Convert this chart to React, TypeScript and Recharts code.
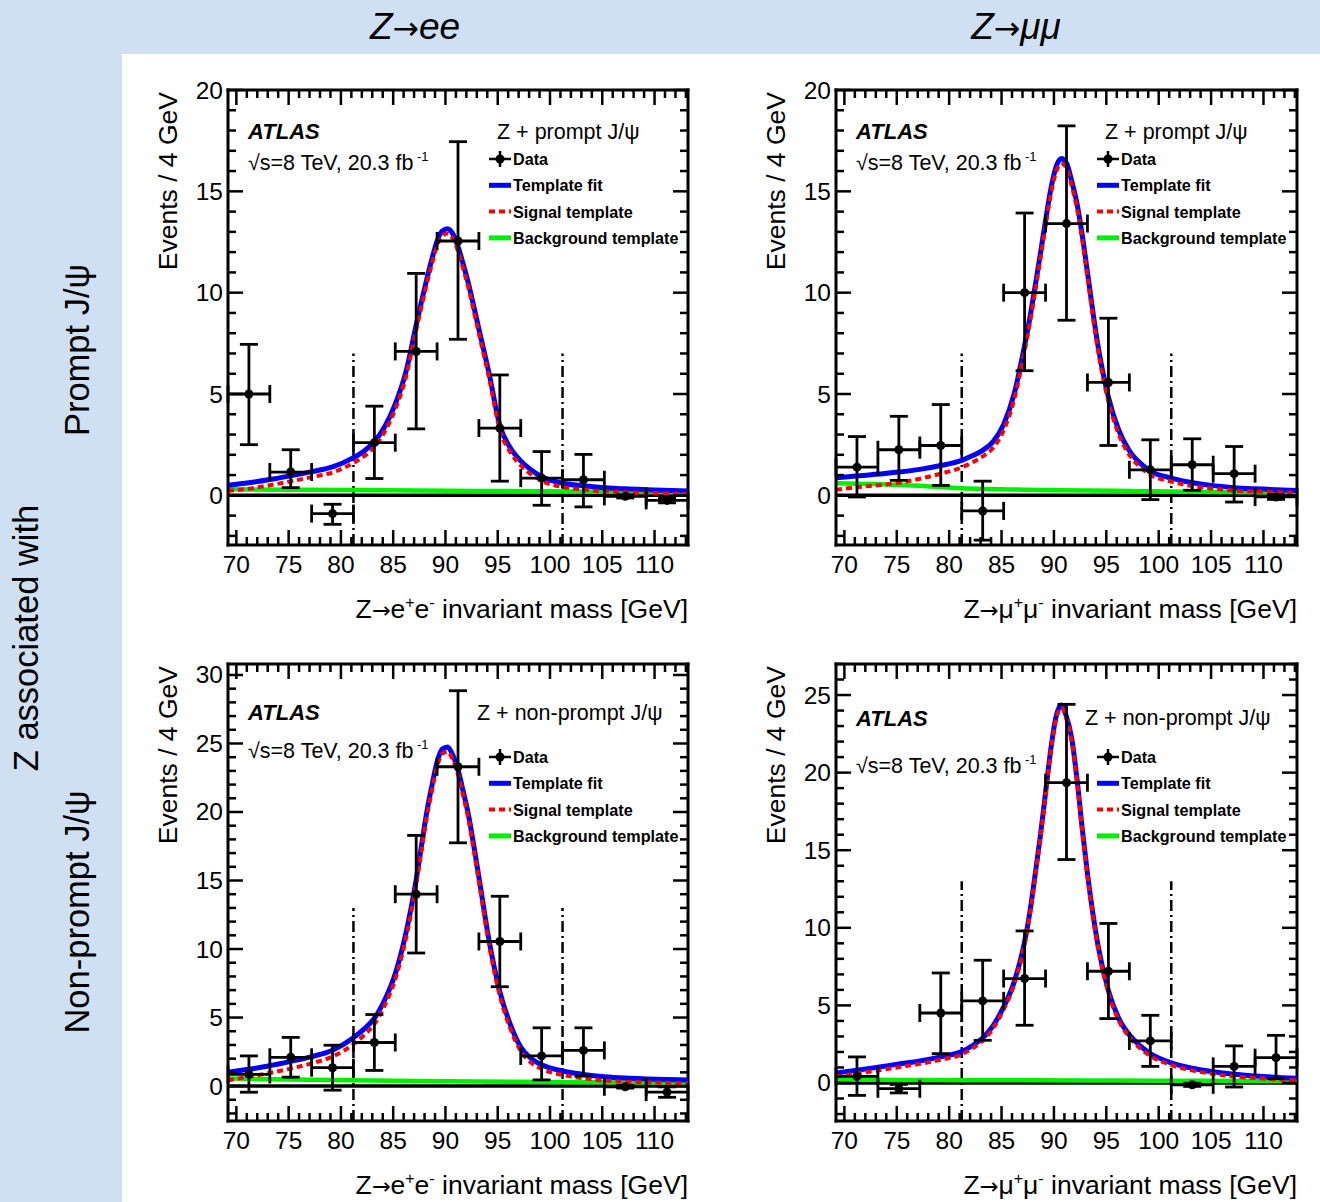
import React from "react"
import { ComposedChart, Line, Scatter, ErrorBar, XAxis, YAxis, ReferenceLine } from "recharts"

const FONT = '"Liberation Sans", Arial, Helvetica, sans-serif'

// centres of the 4 GeV mass bins
const binCentres = [71.2, 75.2, 79.2, 83.2, 87.2, 91.2, 95.2, 99.2, 103.2, 107.2, 111.2]
const binHalfWidth = 2

const curveX = [69.2, 71.2, 73.2, 75.2, 77.2, 79.2, 81.2, 82.2, 83.2, 84.2, 85.2, 86.2, 87.2, 87.7, 88.2, 88.7, 89.2, 89.7, 90.2, 90.7, 91.2, 91.7, 92.2, 92.7, 93.2, 94.2, 95.2, 96.2, 97.2, 98.2, 99.2, 101.2, 103.2, 105.2, 107.2, 109.2, 113.2]
const bkgX = [69.2, 75.2, 81.2, 87.2, 93.2, 99.2, 105.2, 113.2]

const massRange: [number, number] = [69.2, 113.2]
const massWindow = [81.2, 101.2]

// Z->ee, prompt J/psi
const eePromptY = [5.0, 1.15, -0.9, 2.6, 7.1, 12.55, 3.32, 0.85, 0.77, -0.05, -0.25]
const eePromptUp = [2.45, 1.1, 0.46, 1.8, 3.85, 4.9, 2.62, 1.31, 1.25, 0.08, 0.12]
const eePromptDown = [2.5, 0.77, 0.53, 1.77, 3.82, 4.85, 2.62, 1.34, 1.34, 0.08, 0.12]
const eePromptFit = [0.5, 0.62, 0.78, 0.97, 1.17, 1.4, 1.86, 2.18, 2.65, 3.4, 4.5, 6.05, 8.4, 9.55, 10.64, 11.65, 12.55, 13.05, 13.15, 12.9, 12.28, 11.4, 10.45, 9.35, 8.2, 5.95, 3.45, 2.35, 1.7, 1.25, 0.92, 0.6, 0.47, 0.38, 0.32, 0.28, 0.22]
const eePromptSig = [0.22, 0.33, 0.5, 0.69, 0.9, 1.13, 1.6, 1.92, 2.39, 3.15, 4.25, 5.8, 8.15, 9.3, 10.4, 11.41, 12.31, 12.81, 12.92, 12.67, 12.05, 11.17, 10.22, 9.12, 7.98, 5.73, 3.23, 2.13, 1.48, 1.04, 0.72, 0.41, 0.29, 0.2, 0.15, 0.12, 0.07]
const eePromptBkg = [0.3, 0.28, 0.26, 0.24, 0.22, 0.2, 0.18, 0.15]

// Z->mumu, prompt J/psi
const mmPromptY = [1.39, 2.25, 2.46, -0.77, 10.0, 13.41, 5.57, 1.26, 1.51, 1.07, -0.08]
const mmPromptUp = [1.51, 1.65, 2.02, 1.47, 3.93, 4.82, 3.17, 1.48, 1.28, 1.34, 0.12]
const mmPromptDown = [1.47, 1.51, 1.97, 1.44, 3.85, 4.77, 3.11, 1.47, 1.26, 1.4, 0.12]
const mmPromptFit = [0.87, 0.95, 1.05, 1.15, 1.28, 1.47, 1.73, 1.95, 2.22, 2.65, 3.5, 5.0, 7.4, 8.75, 10.3, 11.9, 13.55, 15.1, 16.2, 16.62, 16.4, 15.5, 14.4, 12.85, 11.0, 7.4, 4.85, 3.2, 2.2, 1.6, 1.2, 0.85, 0.62, 0.48, 0.38, 0.32, 0.24]
const mmPromptSig = [0.28, 0.4, 0.5, 0.62, 0.82, 1.07, 1.38, 1.62, 1.92, 2.35, 3.2, 4.72, 7.12, 8.48, 10.03, 11.63, 13.29, 14.85, 15.95, 16.37, 16.15, 15.26, 14.16, 12.61, 10.77, 7.17, 4.63, 2.99, 2.0, 1.41, 1.01, 0.68, 0.46, 0.33, 0.24, 0.19, 0.12]
const mmPromptBkg = [0.6, 0.52, 0.35, 0.28, 0.24, 0.2, 0.17, 0.13]

// Z->ee, non-prompt J/psi
const eeNonPromptY = [0.85, 2.1, 1.34, 3.18, 14.0, 23.3, 10.55, 2.2, 2.6, -0.05, -0.44]
const eeNonPromptUp = [1.35, 1.45, 1.64, 2.04, 4.29, 5.55, 3.3, 2.05, 1.65, 0.1, 0.38]
const eeNonPromptDown = [1.3, 1.45, 1.64, 2.04, 4.29, 5.55, 3.3, 1.75, 1.87, 0.1, 0.38]
const eeNonPromptFit = [1.0, 1.22, 1.48, 1.8, 2.15, 2.62, 3.53, 4.15, 4.95, 6.3, 8.2, 11.1, 15.07, 17.5, 19.93, 21.9, 23.65, 24.6, 24.75, 24.15, 23.08, 21.5, 19.8, 17.6, 15.25, 10.5, 6.9, 4.5, 2.85, 2.0, 1.55, 1.1, 0.85, 0.68, 0.58, 0.52, 0.44]
const eeNonPromptSig = [0.42, 0.68, 0.96, 1.28, 1.65, 2.15, 3.05, 3.7, 4.52, 5.9, 7.8, 10.7, 14.7, 17.13, 19.57, 21.54, 23.3, 24.25, 24.4, 23.8, 22.73, 21.16, 19.46, 17.26, 14.92, 10.18, 6.59, 4.2, 2.55, 1.7, 1.25, 0.81, 0.57, 0.41, 0.32, 0.27, 0.2]
const eeNonPromptBkg = [0.55, 0.48, 0.42, 0.37, 0.33, 0.3, 0.27, 0.24]

// Z->mumu, non-prompt J/psi
const mmNonPromptY = [0.43, -0.37, 4.51, 5.29, 6.73, 19.35, 7.2, 2.71, -0.12, 1.07, 1.63]
const mmNonPromptUp = [1.25, 0.28, 2.58, 2.62, 3.07, 5.05, 3.08, 1.65, 0.1, 1.32, 1.44]
const mmNonPromptDown = [1.23, 0.27, 2.62, 2.54, 3.01, 4.95, 3.05, 1.64, 0.1, 1.33, 1.35]
const mmNonPromptFit = [0.64, 0.82, 1.02, 1.22, 1.42, 1.68, 2.02, 2.4, 2.9, 3.7, 4.9, 6.5, 9.1, 11.0, 13.4, 15.9, 18.7, 21.5, 23.6, 24.35, 23.6, 22.2, 19.6, 16.4, 13.5, 8.9, 5.95, 4.15, 3.1, 2.4, 1.9, 1.3, 0.95, 0.72, 0.56, 0.45, 0.3]
const mmNonPromptSig = [0.42, 0.61, 0.81, 1.02, 1.23, 1.5, 1.84, 2.22, 2.72, 3.53, 4.73, 6.33, 8.93, 10.83, 13.23, 15.73, 18.53, 21.34, 23.44, 24.19, 23.44, 22.04, 19.44, 16.24, 13.34, 8.74, 5.8, 4.0, 2.95, 2.25, 1.75, 1.15, 0.81, 0.58, 0.42, 0.32, 0.17]
const mmNonPromptBkg = [0.22, 0.2, 0.18, 0.17, 0.16, 0.15, 0.14, 0.13]

const legendNames = ["Data", "Template fit", "Signal template", "Background template"]

const BLUE = "#0000ff"
const RED = "#ff0000"
const GREEN = "#00f000"

const FL = 98 // plot frame left inside a panel
const FT = 30 // plot frame top inside a panel
const YAXIS_W = 70
const XAXIS_H = 80

// one tick per GeV, labelled every 5
const massTicks: number[] = []
for (let m = 70; m <= 113; m++) massTicks.push(m)

function intRange(a: number, b: number) {
  const out: number[] = []
  for (let v = Math.ceil(a); v <= Math.floor(b); v++) out.push(v)
  return out
}

// bottom axis tick, also mirrored onto the top edge of the frame
function MassTick(props: any) {
  const { x, y, payload, plotH } = props
  const v = payload.value
  const major = v % 5 === 0
  const len = major ? 15 : 8
  const top = y - plotH
  return (
    <g>
      <line x1={x} x2={x} y1={y} y2={y - len} stroke="#000" strokeWidth={2.5} />
      <line x1={x} x2={x} y1={top} y2={top + len} stroke="#000" strokeWidth={2.5} />
      {major && (
        <text x={x} y={y + 19} textAnchor="middle" dominantBaseline="central" fontSize={24.5} fontFamily={FONT} fill="#000">
          {v}
        </text>
      )}
    </g>
  )
}

// left axis tick, also mirrored onto the right edge of the frame
function CountTick(props: any) {
  const { x, y, payload, plotW } = props
  const v = payload.value
  const major = v % 5 === 0
  const len = major ? 15 : 8
  const right = x + plotW
  return (
    <g>
      <line x1={x} x2={x + len} y1={y} y2={y} stroke="#000" strokeWidth={2.5} />
      <line x1={right} x2={right - len} y1={y} y2={y} stroke="#000" strokeWidth={2.5} />
      {major && (
        <text x={x - 5} y={y} textAnchor="end" dominantBaseline="central" fontSize={24.5} fontFamily={FONT} fill="#000">
          {v}
        </text>
      )}
    </g>
  )
}

function DataDot(props: any) {
  const { cx, cy } = props
  return <circle cx={cx} cy={cy} r={4.5} fill="#000" />
}

interface PanelSpec {
  left: number
  top: number
  width: number
  height: number
  plotW: number
  plotH: number
  yMin: number
  yMax: number
  windowTop: number
  lepton: string
  tag: string
  atlasY: number
  lumiY: number
  tagX: number
  tagY: number
  legendY: number
  titleY: number
  y: number[]
  up: number[]
  down: number[]
  fit: number[]
  sig: number[]
  bkg: number[]
}

const panels: PanelSpec[] = [
  {
    left: 130, top: 60, width: 600, height: 580, plotW: 460, plotH: 455,
    yMin: -2.45, yMax: 20, windowTop: 7, lepton: "e", tag: "Z + prompt J/ψ",
    atlasY: 79, lumiY: 110, tagX: 367, tagY: 79, legendY: 99, titleY: 558,
    y: eePromptY, up: eePromptUp, down: eePromptDown, fit: eePromptFit, sig: eePromptSig, bkg: eePromptBkg,
  },
  {
    left: 738, top: 60, width: 582, height: 580, plotW: 461, plotH: 455,
    yMin: -2.45, yMax: 20, windowTop: 7, lepton: "μ", tag: "Z + prompt J/ψ",
    atlasY: 79, lumiY: 110, tagX: 367, tagY: 79, legendY: 99, titleY: 558,
    y: mmPromptY, up: mmPromptUp, down: mmPromptDown, fit: mmPromptFit, sig: mmPromptSig, bkg: mmPromptBkg,
  },
  {
    left: 130, top: 634, width: 600, height: 568, plotW: 460, plotH: 457,
    yMin: -2.55, yMax: 30.8, windowTop: 13, lepton: "e", tag: "Z + non-prompt J/ψ",
    atlasY: 86, lumiY: 124, tagX: 347, tagY: 86, legendY: 123, titleY: 560,
    y: eeNonPromptY, up: eeNonPromptUp, down: eeNonPromptDown, fit: eeNonPromptFit, sig: eeNonPromptSig, bkg: eeNonPromptBkg,
  },
  {
    left: 738, top: 634, width: 582, height: 568, plotW: 461, plotH: 457,
    yMin: -2.45, yMax: 27, windowTop: 13, lepton: "μ", tag: "Z + non-prompt J/ψ",
    atlasY: 92, lumiY: 139, tagX: 347, tagY: 91, legendY: 123, titleY: 560,
    y: mmNonPromptY, up: mmNonPromptUp, down: mmNonPromptDown, fit: mmNonPromptFit, sig: mmNonPromptSig, bkg: mmNonPromptBkg,
  },
]

function LegendIcon({ name, cy }: { name: string; cy: number }) {
  const x1 = FL + 261
  const x2 = FL + 283
  if (name === "Data") {
    return (
      <g>
        <line x1={x1} x2={x2} y1={cy} y2={cy} stroke="#000" strokeWidth={2.5} />
        <line x1={(x1 + x2) / 2} x2={(x1 + x2) / 2} y1={cy - 8} y2={cy + 8} stroke="#000" strokeWidth={2.5} />
        <circle cx={(x1 + x2) / 2} cy={cy} r={4.5} fill="#000" />
      </g>
    )
  }
  if (name === "Template fit") return <line x1={x1} x2={x2} y1={cy} y2={cy} stroke={BLUE} strokeWidth={5} />
  if (name === "Signal template")
    return <line x1={x1} x2={x2} y1={cy} y2={cy} stroke={RED} strokeWidth={4} strokeDasharray="6 4" />
  return <line x1={x1} x2={x2} y1={cy} y2={cy} stroke={GREEN} strokeWidth={5} />
}

function Arrow() {
  return (
    <tspan fontFamily='"DejaVu Sans"' fontSize="0.85em">
      →
    </tspan>
  )
}

function Panel({ p }: { p: PanelSpec }) {
  const margin = {
    top: FT,
    left: FL - YAXIS_W,
    right: p.width - FL - p.plotW,
    bottom: p.height - FT - p.plotH - XAXIS_H,
  }
  const points = binCentres.map((x, i) => ({ x, y: p.y[i], ex: binHalfWidth, ey: [p.down[i], p.up[i]] }))
  const fitData = curveX.map((x, i) => ({ x, v: p.fit[i] }))
  const sigData = curveX.map((x, i) => ({ x, v: p.sig[i] }))
  const bkgData = bkgX.map((x, i) => ({ x, v: p.bkg[i] }))
  const yTicks = intRange(p.yMin, p.yMax)
  const axisLine = { stroke: "#000", strokeWidth: 3, strokeLinecap: "square" as const }
  const yDomain: [number, number] = [p.yMin, p.yMax]
  const l = p.lepton

  return (
    <div style={{ position: "absolute", left: p.left, top: p.top, width: p.width, height: p.height }}>
      <ComposedChart width={p.width} height={p.height} margin={margin}>
        <XAxis
          dataKey="x" type="number" domain={massRange} allowDataOverflow ticks={massTicks} interval={0}
          height={XAXIS_H} tickSize={0} tickMargin={0} tickLine={false} axisLine={axisLine}
          tick={<MassTick plotH={p.plotH} />}
        />
        <YAxis
          type="number" domain={yDomain} allowDataOverflow ticks={yTicks} interval={0} width={YAXIS_W}
          tickSize={0} tickMargin={0} tickLine={false} axisLine={axisLine} tick={<CountTick plotW={p.plotW} />}
        />
        {/* top and right edges of the frame */}
        <ReferenceLine y={p.yMax} stroke="#000" strokeWidth={3} strokeLinecap="square" ifOverflow="visible" />
        <ReferenceLine x={massRange[1]} stroke="#000" strokeWidth={3} strokeLinecap="square" ifOverflow="visible" />
        <ReferenceLine y={0} stroke="#000" strokeWidth={3.5} />
        {massWindow.map((m) => (
          <ReferenceLine
            key={m}
            segment={[{ x: m, y: p.yMin }, { x: m, y: p.windowTop }]}
            stroke="#000"
            strokeWidth={2.5}
            strokeDasharray="11 4 2 4"
            ifOverflow="visible"
          />
        ))}
        <Line data={bkgData} dataKey="v" name="Background template" type="monotone" stroke={GREEN} strokeWidth={4.5} dot={false} isAnimationActive={false} />
        <Line data={fitData} dataKey="v" name="Template fit" type="monotone" stroke={BLUE} strokeWidth={5} dot={false} isAnimationActive={false} />
        <Line data={sigData} dataKey="v" name="Signal template" type="monotone" stroke={RED} strokeWidth={4} strokeDasharray="6 4" dot={false} isAnimationActive={false} />
        <Scatter data={points} dataKey="y" name="Data" shape={<DataDot />} isAnimationActive={false}>
          <ErrorBar dataKey="ey" direction="y" width={9} stroke="#000" strokeWidth={2.8} isAnimationActive={false} />
          <ErrorBar dataKey="ex" direction="x" width={9} stroke="#000" strokeWidth={2.8} isAnimationActive={false} />
        </Scatter>
      </ComposedChart>

      <svg
        width={p.width}
        height={p.height}
        style={{ position: "absolute", left: 0, top: 0, pointerEvents: "none" }}
        fontFamily={FONT}
      >
        <text x={47} y={FT + 2} transform={`rotate(-90 47 ${FT + 2})`} textAnchor="end" fontSize={26.5} fill="#000">
          Events / 4 GeV
        </text>
        <text x={FL + p.plotW} y={p.titleY} textAnchor="end" fontSize={26.5} fill="#000">
          Z<Arrow />
          {l}
          <tspan dy={-10} fontSize={16}>+</tspan>
          <tspan dy={10}>{l}</tspan>
          <tspan dy={-10} fontSize={16}>-</tspan>
          <tspan dy={10}> invariant mass [GeV]</tspan>
        </text>
        <text x={FL + 20} y={p.atlasY} fontSize={22} fontWeight="bold" fontStyle="italic" fill="#000">
          ATLAS
        </text>
        <text x={FL + 20} y={p.lumiY} fontSize={21.5} fill="#000">
          √s=8 TeV, 20.3 fb
          <tspan dy={-9} fontSize={13}> -1</tspan>
        </text>
        <text x={p.tagX} y={p.tagY} fontSize={21.5} fill="#000">
          {p.tag}
        </text>
        {legendNames.map((name, i) => {
          const cy = p.legendY + i * 26.3
          return (
            <g key={name}>
              <LegendIcon name={name} cy={cy} />
              <text x={FL + 285} y={cy + 6} fontSize={16.2} fontWeight="bold" fill="#000">
                {name}
              </text>
            </g>
          )
        })}
      </svg>
    </div>
  )
}

export default function App() {
  return (
    <div
      style={{
        position: "absolute",
        left: 0,
        top: 0,
        width: 1320,
        height: 1202,
        background: "#cfe0f2",
        overflow: "hidden",
        fontFamily: FONT,
      }}
    >
      <div style={{ position: "absolute", left: 122, top: 54, right: 0, bottom: 0, background: "#fff" }} />
      <svg width={1320} height={1202} style={{ position: "absolute", left: 0, top: 0 }} fontFamily={FONT}>
        <text x={415} y={39} textAnchor="middle" fontSize={37} fontStyle="italic" fill="#000">
          Z<Arrow />ee
        </text>
        <text x={1016} y={39} textAnchor="middle" fontSize={37} fontStyle="italic" fill="#000">
          Z<Arrow />μμ
        </text>
        <text x={89} y={350} transform="rotate(-90 89 350)" textAnchor="middle" fontSize={34.5} fill="#000">
          Prompt J/ψ
        </text>
        <text x={38} y={638} transform="rotate(-90 38 638)" textAnchor="middle" fontSize={34.5} fill="#000">
          Z associated with
        </text>
        <text x={89} y={912} transform="rotate(-90 89 912)" textAnchor="middle" fontSize={34.5} fill="#000">
          Non-prompt J/ψ
        </text>
      </svg>
      {panels.map((p, i) => (
        <Panel key={i} p={p} />
      ))}
    </div>
  )
}
